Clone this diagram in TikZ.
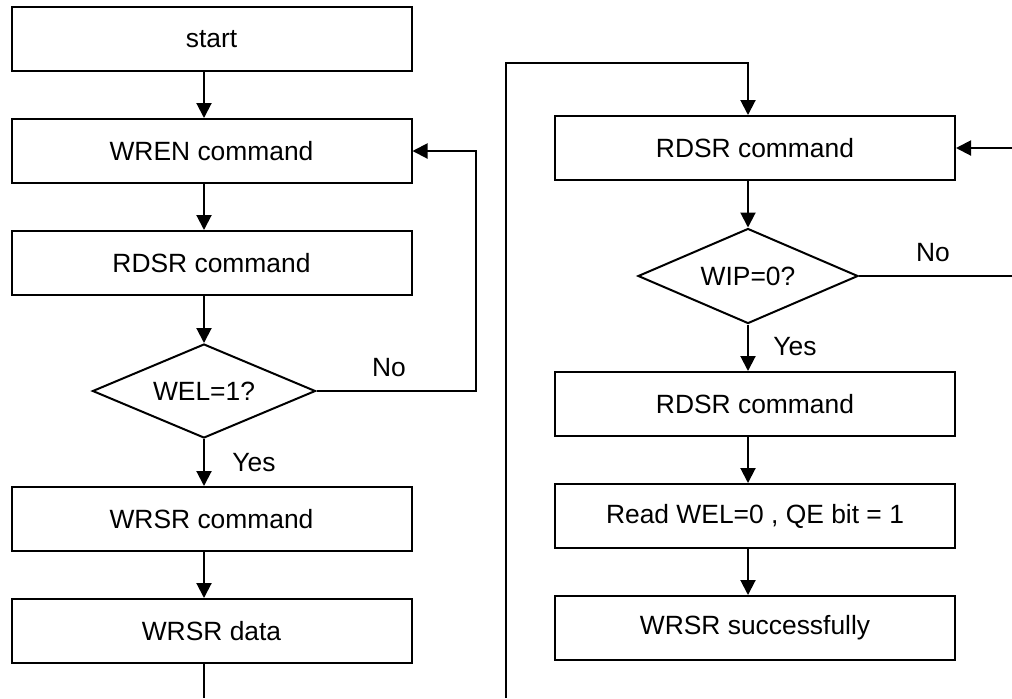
\documentclass[tikz,border=0pt]{standalone}
\usepackage{fontspec}
\setmainfont{Liberation Sans}
\usetikzlibrary{arrows.meta,shapes.geometric}
\begin{document}
\begin{tikzpicture}[x=0.5pt,y=-0.5pt,line width=1pt,
  txt/.style={font=\fontsize{13.2}{15}\selectfont},
  procbox/.style={txt,draw,rectangle,minimum width=200pt,minimum height=32pt,inner sep=0pt},
  decision/.style={txt,draw,diamond,inner sep=0pt,aspect=2.3},
  flow/.style={-{Triangle[width=7.5pt,length=7.5pt]}},
  lbl/.style={txt,inner sep=0pt}]
\useasboundingbox (0,0) rectangle (1012,698);

% column axes for the connectors
\coordinate (colL) at (204,0);
\coordinate (colR) at (748,0);

% left column
\node[procbox] (start) at (211.5,39)  {start};
\node[procbox] (wren)  at (211.5,151) {WREN command};
\node[procbox] (rdsr1) at (211.5,263) {RDSR command};
\node[decision,minimum width=111.5pt,minimum height=47pt] (wel) at (204,391) {WEL=1?};
\node[procbox] (wrsrc) at (211.5,519) {WRSR command};
\node[procbox] (wrsrd) at (211.5,631) {WRSR data};

% right column
\node[procbox] (rdsr2) at (755,148) {RDSR command};
\node[decision,minimum width=110pt,minimum height=47.5pt] (wip) at (748,276) {WIP=0?};
\node[procbox] (rdsr3) at (755,404) {RDSR command};
\node[procbox] (readb) at (755,516) {Read WEL=0 , QE bit = 1};
\node[procbox] (succ)  at (755,628) {WRSR successfully};

% loose ends and bends
\coordinate (exitL) at (204,698);
\coordinate (loopL) at (476,151);
\coordinate (botM) at (506,698);
\coordinate (topM) at (506,63);
\coordinate (exitR) at (1012,276);
\coordinate (entR) at (1012,148);

% left connectors
\draw[flow] (start.south -| colL) -- (wren.north -| colL);
\draw[flow] (wren.south -| colL) -- (rdsr1.north -| colL);
\draw[flow] (rdsr1.south -| colL) -- (wel.north);
\draw[flow] (wel.south) -- (wrsrc.north -| colL);
\draw[flow] (wrsrc.south -| colL) -- (wrsrd.north -| colL);
\draw (wrsrd.south -| colL) -- (exitL);
\draw[flow] (wel.east) -| (loopL) -- (wren.east);

% right connectors
\draw[flow] (botM) -- (topM) -| (rdsr2.north -| colR);
\draw[flow] (rdsr2.south -| colR) -- (wip.north);
\draw (wip.east) -- (exitR);
\draw[flow] (entR) -- (rdsr2.east);
\draw[flow] (wip.south) -- (rdsr3.north -| colR);
\draw[flow] (rdsr3.south -| colR) -- (readb.north -| colR);
\draw[flow] (readb.south -| colR) -- (succ.north -| colR);

% branch labels
\node[lbl] (noL)  at (389,368) {No};
\node[lbl] (yesL) at (254,463) {Yes};
\node[lbl] (noR)  at (933,253) {No};
\node[lbl] (yesR) at (795,347) {Yes};
\end{tikzpicture}
\end{document}
